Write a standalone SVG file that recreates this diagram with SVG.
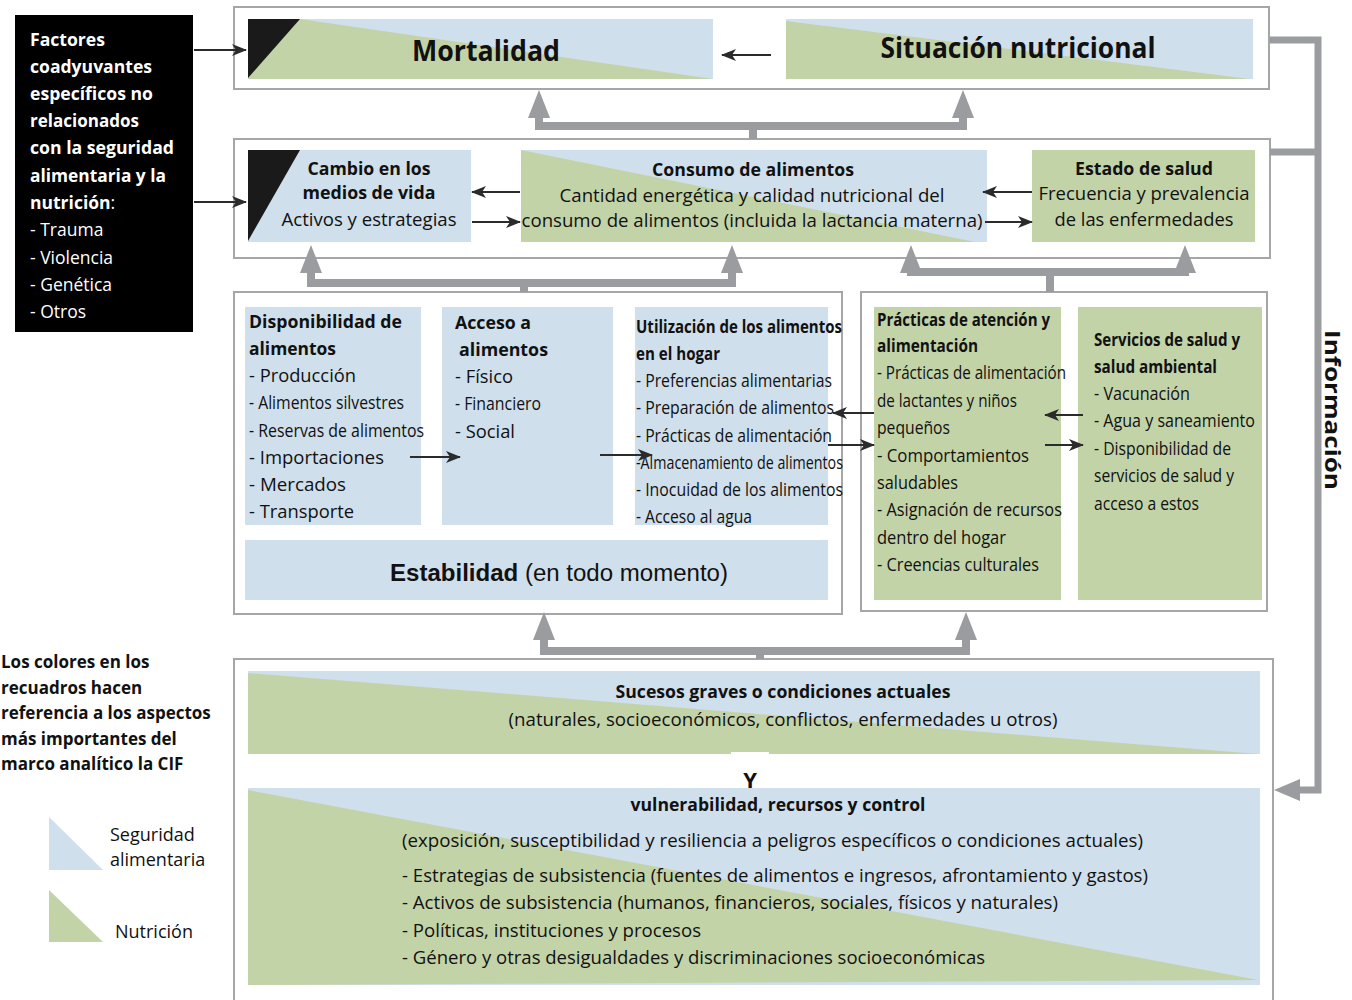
<svg xmlns="http://www.w3.org/2000/svg" width="1352" height="1000" viewBox="0 0 1352 1000">
<style>
.ob{fill:#fff;stroke:#a6a6a6;stroke-width:2}
.bl{fill:#cfdfeb}
.gr{fill:#c3d3a8}
.bk{fill:#1a1a1a}
.t{font-family:"Open Sans","Noto Sans",sans-serif;font-size:17.5px;fill:#111}
.tb{font-weight:bold}
.w{fill:#fff}
.lg{font-size:17px}
.l2{font-size:18px}
.gl{stroke:#9a9ca0;stroke-width:8;fill:none}
.gh{fill:#9a9ca0}
.ar{stroke:#2b2b2b;stroke-width:2;fill:none;marker-end:url(#ah)}
</style>
<defs>
<marker id="ah" markerUnits="userSpaceOnUse" markerWidth="16" markerHeight="12" refX="14" refY="6" orient="auto">
<path d="M0,0 L15,6 L0,12 L4,6 z" fill="#2b2b2b"/>
</marker>
</defs>
<rect width="1352" height="1000" fill="#fff"/>

<g id="factores">
<rect x="15" y="15" width="178" height="317" fill="#000"/>
<text class="t tb w" x="30" y="46" textLength="75" lengthAdjust="spacingAndGlyphs">Factores</text>
<text class="t tb w" x="30" y="73" textLength="122" lengthAdjust="spacingAndGlyphs">coadyuvantes</text>
<text class="t tb w" x="30" y="100" textLength="123" lengthAdjust="spacingAndGlyphs">específicos no</text>
<text class="t tb w" x="30" y="127" textLength="109" lengthAdjust="spacingAndGlyphs">relacionados</text>
<text class="t tb w" x="30" y="154" textLength="144" lengthAdjust="spacingAndGlyphs">con la seguridad</text>
<text class="t tb w" x="30" y="182" textLength="136" lengthAdjust="spacingAndGlyphs">alimentaria y la</text>
<text class="t w" x="30" y="209"><tspan class="tb">nutrición</tspan>:</text>
<text class="t w" x="30" y="236">- Trauma</text>
<text class="t w" x="30" y="264">- Violencia</text>
<text class="t w" x="30" y="291">- Genética</text>
<text class="t w" x="30" y="318">- Otros</text>
</g>

<g id="top-box">
<rect class="ob" x="234" y="7" width="1035" height="82"/>
</g>
<g id="mortalidad">
<rect class="bl" x="248" y="19" width="465" height="60"/>
<polygon class="gr" points="248,19 300,19 713,79 248,79"/>
<polygon class="bk" points="248,19 300,19 248,78"/>
<text class="t tb" x="486" y="61" text-anchor="middle" style="font-size:28px" textLength="148" lengthAdjust="spacingAndGlyphs">Mortalidad</text>
</g>
<g id="situacion">
<rect class="bl" x="786" y="19" width="467" height="60"/>
<polygon class="gr" points="786,21 1250,79 786,79"/>
<text class="t tb" x="1018" y="58" text-anchor="middle" style="font-size:28px" textLength="275" lengthAdjust="spacingAndGlyphs">Situación nutricional</text>
</g>

<g id="mid-box">
<rect class="ob" x="234" y="139" width="1036" height="119"/>
</g>
<g id="cambio">
<rect class="bl" x="248" y="150" width="223" height="92"/>
<polygon class="bk" points="248,150 300,150 248,241"/>
<text class="t tb" x="369" y="175" text-anchor="middle" textLength="123" lengthAdjust="spacingAndGlyphs">Cambio en los</text>
<text class="t tb" x="369" y="199" text-anchor="middle" textLength="133" lengthAdjust="spacingAndGlyphs">medios de vida</text>
<text class="t" x="369" y="226" text-anchor="middle" textLength="175" lengthAdjust="spacingAndGlyphs">Activos y estrategias</text>
</g>
<g id="consumo">
<rect class="bl" x="521" y="150" width="466" height="92"/>
<polygon class="gr" points="521,150 975,242 521,242"/>
<text class="t tb" x="753" y="176" text-anchor="middle" textLength="202" lengthAdjust="spacingAndGlyphs">Consumo de alimentos</text>
<text class="t" x="752" y="202" text-anchor="middle" textLength="385" lengthAdjust="spacingAndGlyphs">Cantidad energética y calidad nutricional del</text>
<text class="t" x="752" y="227" text-anchor="middle" textLength="461" lengthAdjust="spacingAndGlyphs">consumo de alimentos (incluida la lactancia materna)</text>
</g>
<g id="estado">
<rect class="gr" x="1032" y="150" width="223" height="92"/>
<text class="t tb" x="1144" y="175" text-anchor="middle" textLength="138" lengthAdjust="spacingAndGlyphs">Estado de salud</text>
<text class="t" x="1144" y="200" text-anchor="middle" textLength="211" lengthAdjust="spacingAndGlyphs">Frecuencia y prevalencia</text>
<text class="t" x="1144" y="226" text-anchor="middle" textLength="179" lengthAdjust="spacingAndGlyphs">de las enfermedades</text>
</g>

<g id="sa-box">
<rect class="ob" x="234" y="292" width="608" height="322"/>
</g>
<g id="disponibilidad">
<rect class="bl" x="245" y="307" width="176" height="218"/>
<text class="t tb" x="249" y="328" textLength="153" lengthAdjust="spacingAndGlyphs">Disponibilidad de</text>
<text class="t tb" x="249" y="355" textLength="87" lengthAdjust="spacingAndGlyphs">alimentos</text>
<text class="t" x="249" y="382" textLength="107" lengthAdjust="spacingAndGlyphs">- Producción</text>
<text class="t" x="249" y="409" textLength="155" lengthAdjust="spacingAndGlyphs">- Alimentos silvestres</text>
<text class="t" x="249" y="437" textLength="175" lengthAdjust="spacingAndGlyphs">- Reservas de alimentos</text>
<text class="t" x="249" y="464" textLength="135" lengthAdjust="spacingAndGlyphs">- Importaciones</text>
<text class="t" x="249" y="491" textLength="97" lengthAdjust="spacingAndGlyphs">- Mercados</text>
<text class="t" x="249" y="518" textLength="105" lengthAdjust="spacingAndGlyphs">- Transporte</text>
</g>
<g id="acceso">
<rect class="bl" x="442" y="307" width="171" height="218"/>
<text class="t tb" x="455" y="329" textLength="76" lengthAdjust="spacingAndGlyphs">Acceso a</text>
<text class="t tb" x="459" y="356" textLength="89" lengthAdjust="spacingAndGlyphs">alimentos</text>
<text class="t" x="455" y="383" textLength="58" lengthAdjust="spacingAndGlyphs">- Físico</text>
<text class="t" x="455" y="410" textLength="86" lengthAdjust="spacingAndGlyphs">- Financiero</text>
<text class="t" x="455" y="438" textLength="60" lengthAdjust="spacingAndGlyphs">- Social</text>
</g>
<g id="utilizacion">
<rect class="bl" x="635" y="307" width="193" height="218"/>
<text class="t tb" x="636" y="333" textLength="206" lengthAdjust="spacingAndGlyphs">Utilización de los alimentos</text>
<text class="t tb" x="636" y="360" textLength="84" lengthAdjust="spacingAndGlyphs">en el hogar</text>
<text class="t" x="636" y="387" textLength="196" lengthAdjust="spacingAndGlyphs">- Preferencias alimentarias</text>
<text class="t" x="636" y="414" textLength="198" lengthAdjust="spacingAndGlyphs">- Preparación de alimentos</text>
<text class="t" x="636" y="442" textLength="196" lengthAdjust="spacingAndGlyphs">- Prácticas de alimentación</text>
<text class="t" x="636" y="469" textLength="207" lengthAdjust="spacingAndGlyphs">-Almacenamiento de alimentos</text>
<text class="t" x="636" y="496" textLength="207" lengthAdjust="spacingAndGlyphs">- Inocuidad de los alimentos</text>
<text class="t" x="636" y="523" textLength="116" lengthAdjust="spacingAndGlyphs">- Acceso al agua</text>
</g>
<g id="estabilidad">
<rect class="bl" x="245" y="540" width="583" height="60"/>
<text x="559" y="581" text-anchor="middle" font-family="'Liberation Sans',Arial,sans-serif" font-size="23" fill="#111" textLength="338" lengthAdjust="spacingAndGlyphs"><tspan font-weight="bold">Estabilidad</tspan> (en todo momento)</text>
</g>

<g id="nut-box">
<rect class="ob" x="861" y="292" width="406" height="319"/>
</g>
<g id="practicas">
<rect class="gr" x="874" y="307" width="187" height="293"/>
<text class="t tb" x="877" y="326" textLength="173" lengthAdjust="spacingAndGlyphs">Prácticas de atención y</text>
<text class="t tb" x="877" y="352" textLength="101" lengthAdjust="spacingAndGlyphs">alimentación</text>
<text class="t" x="877" y="379" textLength="189" lengthAdjust="spacingAndGlyphs">- Prácticas de alimentación</text>
<text class="t" x="877" y="407" textLength="140" lengthAdjust="spacingAndGlyphs">de lactantes y niños</text>
<text class="t" x="877" y="434" textLength="73" lengthAdjust="spacingAndGlyphs">pequeños</text>
<text class="t" x="877" y="462" textLength="152" lengthAdjust="spacingAndGlyphs">- Comportamientos</text>
<text class="t" x="877" y="489" textLength="81" lengthAdjust="spacingAndGlyphs">saludables</text>
<text class="t" x="877" y="516" textLength="185" lengthAdjust="spacingAndGlyphs">- Asignación de recursos</text>
<text class="t" x="877" y="544" textLength="129" lengthAdjust="spacingAndGlyphs">dentro del hogar</text>
<text class="t" x="877" y="571" textLength="162" lengthAdjust="spacingAndGlyphs">- Creencias culturales</text>
</g>
<g id="servicios">
<rect class="gr" x="1078" y="307" width="184" height="293"/>
<text class="t tb" x="1094" y="346" textLength="146" lengthAdjust="spacingAndGlyphs">Servicios de salud y</text>
<text class="t tb" x="1094" y="373" textLength="123" lengthAdjust="spacingAndGlyphs">salud ambiental</text>
<text class="t" x="1094" y="400" textLength="96" lengthAdjust="spacingAndGlyphs">- Vacunación</text>
<text class="t" x="1094" y="427" textLength="161" lengthAdjust="spacingAndGlyphs">- Agua y saneamiento</text>
<text class="t" x="1094" y="455" textLength="137" lengthAdjust="spacingAndGlyphs">- Disponibilidad de</text>
<text class="t" x="1094" y="482" textLength="140" lengthAdjust="spacingAndGlyphs">servicios de salud y</text>
<text class="t" x="1094" y="510" textLength="105" lengthAdjust="spacingAndGlyphs">acceso a estos</text>
</g>

<g id="bottom-box">
<rect class="ob" x="234" y="659" width="1039" height="345"/>
</g>
<g id="sucesos">
<rect class="bl" x="248" y="671" width="1012" height="83"/>
<polygon class="gr" points="248,673 1258,754 248,754"/>
<text class="t tb" x="783" y="698" text-anchor="middle" textLength="335" lengthAdjust="spacingAndGlyphs">Sucesos graves o condiciones actuales</text>
<text class="t" x="783" y="726" text-anchor="middle" textLength="549" lengthAdjust="spacingAndGlyphs">(naturales, socioeconómicos, conflictos, enfermedades u otros)</text>
</g>
<g id="vulnerabilidad">
<rect class="bl" x="248" y="788" width="1012" height="197"/>
<polygon class="gr" points="248,790 1258,980 248,985"/>
<text class="t tb" x="778" y="811" text-anchor="middle" textLength="295" lengthAdjust="spacingAndGlyphs">vulnerabilidad, recursos y control</text>
<text class="t" x="402" y="847" textLength="741" lengthAdjust="spacingAndGlyphs">(exposición, susceptibilidad y resiliencia a peligros específicos o condiciones actuales)</text>
<text class="t" x="402" y="882" textLength="746" lengthAdjust="spacingAndGlyphs">- Estrategias de subsistencia (fuentes de alimentos e ingresos, afrontamiento y gastos)</text>
<text class="t" x="402" y="909" textLength="656" lengthAdjust="spacingAndGlyphs">- Activos de subsistencia (humanos, financieros, sociales, físicos y naturales)</text>
<text class="t" x="402" y="937" textLength="299" lengthAdjust="spacingAndGlyphs">- Políticas, instituciones y procesos</text>
<text class="t" x="402" y="964" textLength="583" lengthAdjust="spacingAndGlyphs">- Género y otras desigualdades y discriminaciones socioeconómicas</text>
</g>
<g id="y-label">
<rect x="731" y="752" width="38" height="36" fill="#fff"/>
<text class="t tb" x="750" y="788" text-anchor="middle" style="font-size:22px">Y</text>
</g>

<g id="legend">
<text class="t tb lg" x="1" y="668">Los colores en los</text>
<text class="t tb lg" x="1" y="694">recuadros hacen</text>
<text class="t tb lg" x="1" y="719">referencia a los aspectos</text>
<text class="t tb lg" x="1" y="745">más importantes del</text>
<text class="t tb lg" x="1" y="770">marco analítico la CIF</text>
<polygon class="bl" points="49,817 103,870 49,870"/>
<text class="t l2" x="110" y="841">Seguridad</text>
<text class="t l2" x="110" y="866">alimentaria</text>
<polygon class="gr" points="49,890 103,942 49,942"/>
<text class="t l2" x="115" y="938">Nutrición</text>
</g>

<g id="informacion-label">
<text class="t tb" transform="translate(1325,410) rotate(90)" text-anchor="middle" style="font-size:22px" textLength="160" lengthAdjust="spacingAndGlyphs">Información</text>
</g>

<g id="connectors">
<path class="ar" d="M194,50 H246"/>
<path class="ar" d="M194,202 H246"/>
<path class="ar" d="M771,55 H722"/>
<path class="ar" d="M520,192 H472"/>
<path class="ar" d="M472,222 H520"/>
<path class="ar" d="M1032,192 H983"/>
<path class="ar" d="M985,222 H1032"/>
<path class="ar" d="M410,457 H460"/>
<path class="ar" d="M600,455 H652"/>
<path class="ar" d="M874,413 H833"/>
<path class="ar" d="M828,445 H874"/>
<path class="ar" d="M1083,415 H1045"/>
<path class="ar" d="M1045,445 H1083"/>

<path class="gl" d="M753,139 V126 M539,112 V126 H963 V112"/>
<polygon class="gh" points="528,118 550,118 539,90"/>
<polygon class="gh" points="952,118 974,118 963,90"/>

<path class="gl" d="M524,292 V283 M311,266 V283 H732 V266"/>
<polygon class="gh" points="300,273 322,273 311,245"/>
<polygon class="gh" points="721,273 743,273 732,245"/>

<path class="gl" d="M1050,292 V272 M911,266 V272 H1185 V266"/>
<polygon class="gh" points="900,273 922,273 911,245"/>
<polygon class="gh" points="1174,273 1196,273 1185,245"/>

<path class="gl" d="M760,659 V651 M544,634 V651 H966 V634"/>
<polygon class="gh" points="533,640 555,640 544,612"/>
<polygon class="gh" points="955,640 977,640 966,612"/>

<path class="gl" style="stroke-width:7" d="M1270,40 H1318 V790 H1298 M1270,152 H1318"/>
<polygon class="gh" points="1300,779 1300,801 1274,790"/>
</g>
</svg>
